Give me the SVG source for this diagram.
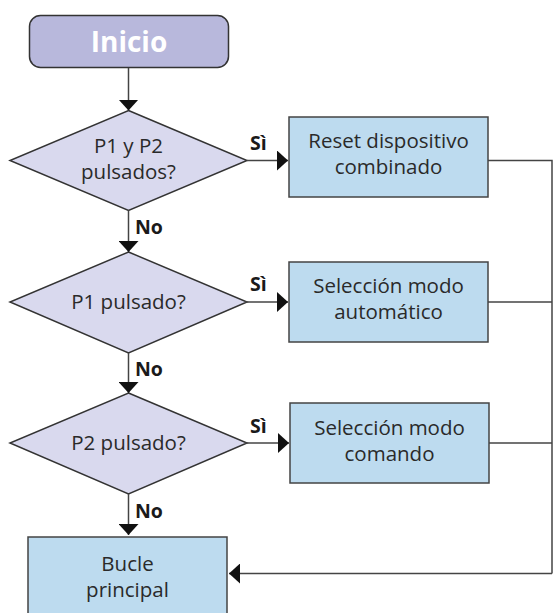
<svg xmlns="http://www.w3.org/2000/svg" width="553" height="613" viewBox="0 0 553 613">
<defs>
<style>
.t{font-family:"Open Sans","Noto Sans",sans-serif;font-size:20.5px;fill:#2a2a2a;text-anchor:middle}
.b{font-family:"Open Sans","Noto Sans",sans-serif;font-size:19.5px;font-weight:bold;fill:#1a1a1a}
.dia{fill:#d9d9ee;stroke:#333;stroke-width:1.5}
.box{fill:#bddbef;stroke:#444;stroke-width:1.5}
.ln{fill:none;stroke:#444;stroke-width:1.5}
</style>
<marker id="ah" markerUnits="userSpaceOnUse" markerWidth="12" markerHeight="20" refX="11" refY="10" orient="auto" viewBox="0 0 12 20">
<path d="M0,0 L11,10 L0,20 Z" fill="#111"/>
</marker>
</defs>
<rect width="553" height="613" fill="#fff"/>
<g id="inicio">
<rect x="29.5" y="15.5" width="199" height="52" rx="11" fill="#b8b8dc" stroke="#333" stroke-width="1.5"/>
<text x="129" y="52" style="font-family:'Open Sans','Noto Sans',sans-serif;font-size:28px;font-weight:bold;fill:#fff;text-anchor:middle">Inicio</text>
</g>
<g id="d1">
<polygon class="dia" points="128.5,110.5 247,160.5 128.5,210.5 10,160.5"/>
<text class="t" x="128.5" y="153">P1 y P2</text>
<text class="t" x="128.5" y="179">pulsados?</text>
</g>
<g id="d2">
<polygon class="dia" points="128.5,252 247,302 128.5,353 10,302"/>
<text class="t" x="128.5" y="309">P1 pulsado?</text>
</g>
<g id="d3">
<polygon class="dia" points="128.5,393 247,443 128.5,494 10,443"/>
<text class="t" x="128.5" y="450">P2 pulsado?</text>
</g>
<g id="b1">
<rect class="box" x="289" y="117" width="199" height="80"/>
<text class="t" x="388.5" y="148">Reset dispositivo</text>
<text class="t" x="388.5" y="174">combinado</text>
</g>
<g id="b2">
<rect class="box" x="289" y="262" width="199" height="80"/>
<text class="t" x="388.5" y="293">Selección modo</text>
<text class="t" x="388.5" y="319">automático</text>
</g>
<g id="b3">
<rect class="box" x="290" y="403" width="199" height="80"/>
<text class="t" x="389.5" y="435">Selección modo</text>
<text class="t" x="389.5" y="461">comando</text>
</g>
<g id="bucle">
<rect class="box" x="28" y="537" width="199" height="90"/>
<text class="t" x="127.5" y="570.5">Bucle</text>
<text class="t" x="127.5" y="596.5">principal</text>
</g>
<g id="connectors">
<line class="ln" x1="128.5" y1="68" x2="128.5" y2="110.5" marker-end="url(#ah)"/>
<line class="ln" x1="247" y1="160.5" x2="288" y2="160.5" marker-end="url(#ah)"/>
<line class="ln" x1="128.5" y1="210.5" x2="128.5" y2="252" marker-end="url(#ah)"/>
<line class="ln" x1="245" y1="302" x2="288" y2="302" marker-end="url(#ah)"/>
<line class="ln" x1="128.5" y1="353" x2="128.5" y2="393" marker-end="url(#ah)"/>
<line class="ln" x1="245" y1="443" x2="289" y2="443" marker-end="url(#ah)"/>
<line class="ln" x1="128.5" y1="494" x2="128.5" y2="535" marker-end="url(#ah)"/>
<polyline class="ln" points="488,160.5 552,160.5 552,573.5"/>
<line class="ln" x1="488" y1="302" x2="552" y2="302"/>
<line class="ln" x1="489" y1="443" x2="552" y2="443"/>
<line class="ln" x1="552" y1="573.5" x2="229" y2="573.5" marker-end="url(#ah)"/>
<text class="b" x="250" y="150">Sì</text>
<text class="b" x="250" y="291">Sì</text>
<text class="b" x="250" y="433">Sì</text>
<text class="b" x="135" y="234">No</text>
<text class="b" x="135" y="376">No</text>
<text class="b" x="135" y="518">No</text>
</g>
</svg>
